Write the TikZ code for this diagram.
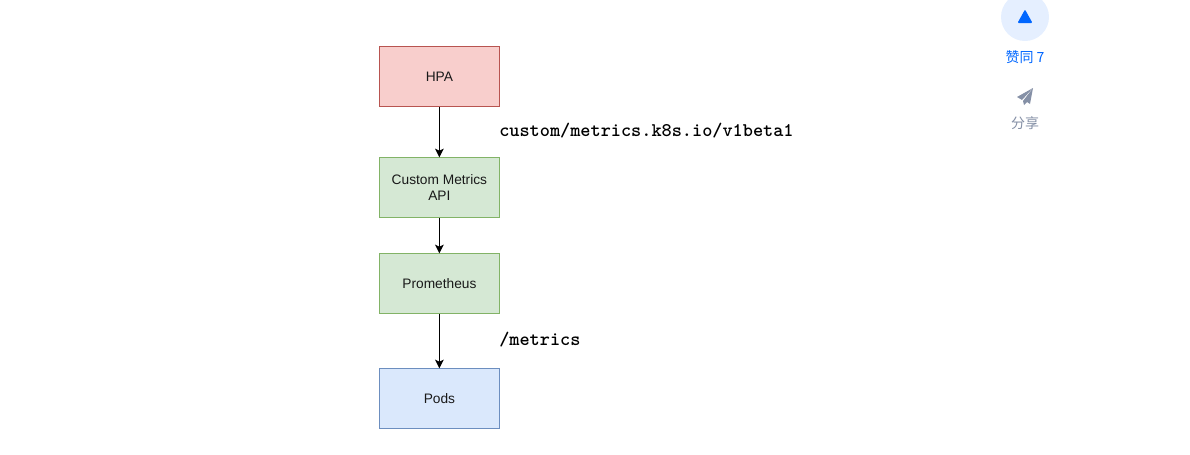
\documentclass[tikz,border=0pt]{standalone}
\usepackage{fontspec}
\setmainfont{Liberation Sans}
\newfontfamily\cjk{Noto Sans CJK SC}
\usetikzlibrary{arrows.meta,shapes.geometric}
\definecolor{hpafill}{HTML}{F8CECC}
\definecolor{hpaline}{HTML}{B85450}
\definecolor{apifill}{HTML}{D5E8D4}
\definecolor{apiline}{HTML}{82B366}
\definecolor{podfill}{HTML}{DAE8FC}
\definecolor{podline}{HTML}{6C8EBF}
\definecolor{votefill}{HTML}{E5EFFF}
\definecolor{voteblue}{HTML}{0066FF}
\definecolor{sharegray}{HTML}{8590A6}

\begin{document}
\begin{tikzpicture}[
    x=0.75pt, y=-0.75pt,
    box/.style={draw, line width=0.75pt, font=\fontsize{10.3}{11.5}\selectfont, minimum width=89.6pt, minimum height=44.6pt, inner sep=0pt, outer sep=0.375pt, align=center, text=black!90},
    redbox/.style={box, fill=hpafill, draw=hpaline},
    greenbox/.style={box, fill=apifill, draw=apiline},
    bluebox/.style={box, fill=podfill, draw=podline},
    urllabel/.style={font=\ttfamily\bfseries\fontsize{14.5}{16}\selectfont, anchor=west, inner sep=0pt},
    sidelabel/.style={font=\cjk\fontsize{10.5}{12}\selectfont, inner sep=0pt},
    link/.style={->, line width=0.8pt},
    >={Stealth[length=6.5pt,width=6.5pt,inset=1.5pt]}
  ]
  \useasboundingbox (0,0) rectangle (1190,454);

  % Boxes
  \node[redbox] (hpa) at (439.4, 76.6) {HPA};
  \node[greenbox] (custom) at (439.4, 187.6) {Custom Metrics\\API};
  \node[greenbox] (prom) at (439.4, 283.6) {Prometheus};
  \node[bluebox] (pods) at (439.4, 398.6) {Pods};

  % Edges
  \draw[link] (hpa) -- (custom);
  \draw[link] (custom) -- (prom);
  \draw[link] (prom) -- (pods);

  % Labels
  \node[urllabel] (apipath) at (499, 131) {custom/metrics.k8s.io/v1beta1};
  \node[urllabel] (metricspath) at (499, 339.5) {/metrics};

  % Side buttons
  \node[circle, fill=votefill, minimum size=36pt, inner sep=0pt] (vote) at (1025, 17) {};
  \fill[voteblue, rounded corners=0.8pt] (1025, 9.5) -- (1032.5, 23) -- (1017.5, 23) -- cycle;
  \node[sidelabel, text=voteblue] (votetext) at (1025, 57) {赞同 7};
  \fill[sharegray] (1033, 88) -- (1017, 97) -- (1022, 100) -- cycle;
  \fill[sharegray] (1033, 88) -- (1023, 101) -- (1024, 105) -- (1027, 102) -- (1030, 104) -- cycle;
  \node[sidelabel, text=sharegray] (sharetext) at (1025, 123) {分享};
\end{tikzpicture}
\end{document}
